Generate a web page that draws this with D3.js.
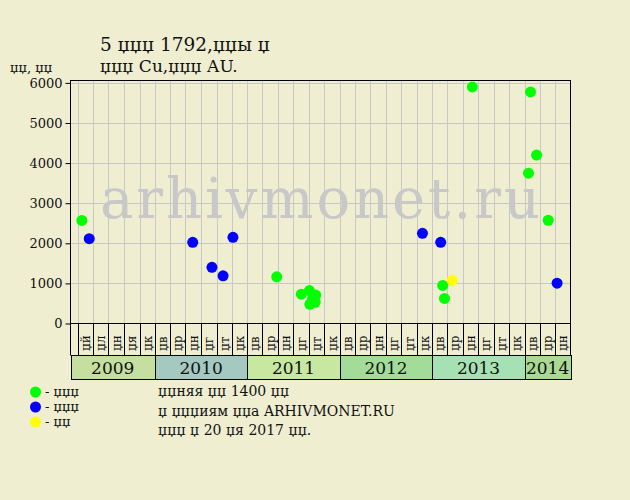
<!DOCTYPE html>
<html><head><meta charset="utf-8">
<script src="https://cdn.jsdelivr.net/npm/d3@7"></script>
<style>
html,body{margin:0;padding:0;background:#efeed1;}
svg{display:block;font-family:"DejaVu Serif",serif;}
</style></head>
<body>
<svg id="c" width="630" height="500"></svg>
<script>
// ---- data ----
const titleLine1 = "5 џџџ 1792,џџы џ";
const titleLine2 = "џџџ Cu,џџџ AU.";
const yTitle = "џџ, џџ";
const yTicks = [0, 1000, 2000, 3000, 4000, 5000, 6000];
const monthLabels = [
  "џй","џл","џн","џя","џк",
  "џв","џр","џн","џг","џт","џк",
  "џв","џр","џн","џг","џт","џк",
  "џв","џр","џн","џг","џт","џк",
  "џв","џр","џн","џг","џт","џк",
  "џв","џр","џн"
];
const years = ["2009","2010","2011","2012","2013","2014"];
const yearStarts = ["2009-02-01","2010-01-01","2011-01-01","2012-01-01","2013-01-01","2014-01-01"];
const yearEnds   = ["2010-01-01","2011-01-01","2012-01-01","2013-01-01","2014-01-01","2014-07-01"];
const yearColors = ["#c4dfa0","#a3c9c1","#c6e8a1","#a3dc98","#a6e1b4","#a9d993"];
const greenPoints = [
  ["2009-03-18",2570],["2011-04-27",1165],
  ["2011-08-02",730],["2011-09-03",820],["2011-09-28",710],["2011-09-05",480],["2011-09-26",530],["2011-09-15",610],
  ["2013-02-11",950],["2013-02-18",625],["2013-06-08",5900],
  ["2014-01-16",3750],["2014-01-24",5775],["2014-02-17",4200],["2014-04-04",2575]
];
const bluePoints = [
  ["2009-04-16",2115],["2010-05-30",2025],["2010-08-14",1400],["2010-09-27",1190],["2010-11-05",2150],
  ["2012-11-23",2250],["2013-02-03",2025],["2014-05-09",1005]
];
const yellowPoints = [["2013-03-20",1075]];
const legendItems = [["#00ff00","- џџџ"],["#0000ff","- џџџ"],["#ffff00","- џџ"]];
const notes = ["џџняя џџ 1400 џџ","џ џџџиям џџа ARHIVMONET.RU","џџџ џ 20 џя 2017 џџ."];
const watermark = "arhivmonet.ru";

// ---- layout ----
const L = 70.5, R = 570.5, T = 80.5, B = 323.5;
const parse = d3.timeParse("%Y-%m-%d");
const x = d3.scaleTime().domain([parse("2009-02-01"), parse("2014-07-01")]).range([L, R]);
const y = d3.scaleLinear().domain([0, 6060]).range([B, T]);
const svg = d3.select("#c");

svg.append("rect").attr("width",630).attr("height",500).attr("fill","#efeed1");

// watermark
svg.append("text").attr("x",100).attr("y",218).attr("font-size",56)
  .attr("fill","#c8c8c8").attr("textLength",440).attr("lengthAdjust","spacing")
  .text(watermark);

// grid
const gridDates = d3.timeMonths(parse("2009-03-01"), parse("2014-07-01"), 2);
svg.append("g").selectAll("line").data(gridDates).join("line")
  .attr("x1",d=>Math.round(x(d))+0.5).attr("x2",d=>Math.round(x(d))+0.5)
  .attr("y1",T).attr("y2",B).attr("stroke","#c8c8c8").attr("stroke-width",1);
svg.append("g").selectAll("line").data(yTicks.slice(1)).join("line")
  .attr("x1",L).attr("x2",R).attr("y1",d=>Math.round(y(d))+0.5).attr("y2",d=>Math.round(y(d))+0.5)
  .attr("stroke","#c8c8c8");

// y axis
const yAxis = d3.axisLeft(y).tickValues(yTicks).tickFormat(d3.format("d")).tickSize(5).tickSizeOuter(0).tickPadding(3);
const gy = svg.append("g").attr("transform",`translate(${L},0)`).call(yAxis);
gy.select(".domain").remove();
gy.selectAll("text").attr("font-family","DejaVu Serif").attr("font-size",13).attr("fill","#111");
gy.selectAll("line").attr("stroke","#000");

// frame
svg.append("rect").attr("x",L).attr("y",T).attr("width",R-L).attr("height",B-T)
  .attr("fill","none").attr("stroke","#000");

// month label area
const MB = 355.5, YB = 379.5;
const colEdges = gridDates.concat([parse("2014-07-01")]);
svg.append("g").selectAll("line").data(gridDates).join("line")
  .attr("x1",d=>Math.round(x(d))+0.5).attr("x2",d=>Math.round(x(d))+0.5)
  .attr("y1",B).attr("y2",MB).attr("stroke","#000");
svg.append("line").attr("x1",L).attr("x2",L).attr("y1",B).attr("y2",MB).attr("stroke","#000");
svg.append("line").attr("x1",R).attr("x2",R).attr("y1",B).attr("y2",MB).attr("stroke","#000");
svg.append("g").selectAll("text").data(monthLabels).join("text")
  .attr("transform",(d,i)=>{
    const cx=(x(colEdges[i])+x(colEdges[i+1]))/2;
    return `translate(${cx+4.5},351) rotate(-90)`;})
  .attr("font-size",12).attr("fill","#111").text(d=>d);

// year band
const yg = svg.append("g");
years.forEach((yr,i)=>{
  const x0=x(parse(yearStarts[i])), x1=x(parse(yearEnds[i]));
  yg.append("rect").attr("x",Math.round(x0)+0.5).attr("y",MB).attr("width",Math.round(x1)-Math.round(x0)).attr("height",YB-MB)
    .attr("fill",yearColors[i]).attr("stroke","#000");
  yg.append("text").attr("x",(x0+x1)/2).attr("y",MB+18.5).attr("text-anchor","middle")
    .attr("font-size",17).attr("fill","#111").text(yr);
});

// points
function dots(data,color){
  svg.append("g").selectAll("circle").data(data).join("circle")
    .attr("cx",d=>x(parse(d[0]))).attr("cy",d=>y(d[1])).attr("r",5.5).attr("fill",color);
}
dots(greenPoints,"#00ff00");
dots(bluePoints,"#0000ff");
dots(yellowPoints,"#ffff00");

// titles
svg.append("text").attr("x",100).attr("y",51).attr("font-size",18.5).attr("fill","#111").text(titleLine1);
svg.append("text").attr("x",100).attr("y",72).attr("font-size",17).attr("fill","#111").text(titleLine2);
svg.append("text").attr("x",10).attr("y",72).attr("font-size",13).attr("fill","#111").text(yTitle);

// legend
legendItems.forEach((d,i)=>{
  svg.append("circle").attr("cx",35.5).attr("cy",392+i*15).attr("r",5.5).attr("fill",d[0]);
  svg.append("text").attr("x",45).attr("y",396+i*15).attr("font-size",13).attr("fill","#111").text(d[1]);
});
notes.forEach((t,i)=>{
  svg.append("text").attr("x",158).attr("y",396+i*19.5).attr("font-size",14).attr("fill","#111").text(t);
});
</script>
</body></html>
